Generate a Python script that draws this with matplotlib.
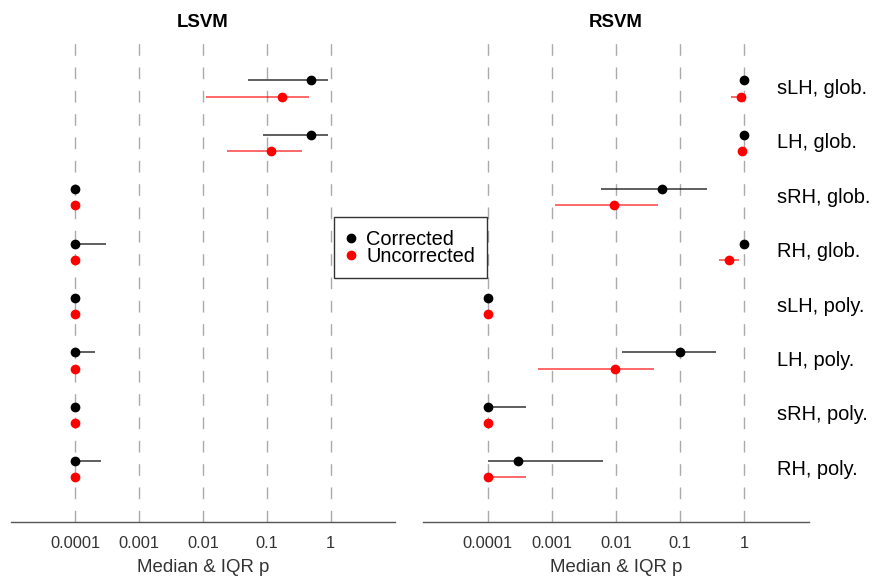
import matplotlib
matplotlib.use("Agg")
import matplotlib.pyplot as plt
import matplotlib.transforms as mtransforms
from matplotlib.lines import Line2D
import numpy as np

plt.rcParams['font.family'] = ['Liberation Sans', 'DejaVu Sans']

labels = ["sLH, glob.", "LH, glob.", "sRH, glob.", "RH, glob.",
          "sLH, poly.", "LH, poly.", "sRH, poly.", "RH, poly."]
tick_vals = [1e-4, 1e-3, 1e-2, 1e-1, 1]
tick_labels = ["0.0001", "0.001", "0.01", "0.1", "1"]

# LSVM
lsvm_corr_med = [0.49, 0.50, 1e-4, 1e-4, 1e-4, 1e-4, 1e-4, 1e-4]
lsvm_corr_q1 = [0.05, 0.087, 1e-4, 1e-4, 1e-4, 1e-4, 1e-4, 1e-4]
lsvm_corr_q3 = [0.91, 0.91, 1e-4, 3.0e-4, 1e-4, 2.0e-4, 1e-4, 2.5e-4]
lsvm_unc_med = [0.174, 0.117, 1e-4, 1e-4, 1e-4, 1e-4, 1e-4, 1e-4]
lsvm_unc_q1 = [0.011, 0.024, 1e-4, 1e-4, 1e-4, 1e-4, 1e-4, 1e-4]
lsvm_unc_q3 = [0.46, 0.355, 1e-4, 1e-4, 1e-4, 1e-4, 1e-4, 1e-4]

# RSVM
rsvm_corr_med = [1.0, 1.0, 0.052, 1.0, 1e-4, 0.1, 1e-4, 3.0e-4]
rsvm_corr_q1 = [1.0, 1.0, 0.0058, 1.0, 1e-4, 0.0125, 1e-4, 1e-4]
rsvm_corr_q3 = [1.0, 1.0, 0.26, 1.0, 1e-4, 0.36, 4.0e-4, 0.0063]
rsvm_unc_med = [0.885, 0.91, 0.0094, 0.58, 1e-4, 0.0095, 1e-4, 1e-4]
rsvm_unc_q1 = [0.62, 0.90, 0.0011, 0.40, 1e-4, 6.0e-4, 1e-4, 1e-4]
rsvm_unc_q3 = [1.0, 0.93, 0.046, 0.83, 1e-4, 0.039, 1e-4, 4.0e-4]

W, H = 872, 578
fig = plt.figure(figsize=(W / 100, H / 100), dpi=100)

def px_axes(x0, x1, y0, y1):
    return fig.add_axes([x0 / W, 1 - y1 / H, (x1 - x0) / W, (y1 - y0) / H])

ax1 = px_axes(11, 395, 33, 522)
ax2 = px_axes(423, 809, 33, 522)

n = len(labels)
rows = np.arange(n, 0, -1)
off = 0.15

def draw(ax, cm, c1, c3, um, u1, u3, title, show_labels):
    ax.set_xscale('log')
    ax.set_xlim(10 ** -5.01, 10 ** 1.01)
    ax.set_ylim(0.03, 9.02)
    for t in tick_vals:
        ax.axvline(t, color='#aaaaaa', lw=1.0, dashes=(8.4, 8.4), zorder=0)
    ax.hlines(rows + off, c1, c3, color='black', lw=1.1, alpha=0.8, zorder=2)
    ax.hlines(rows - off, u1, u3, color='red', lw=1.1, alpha=0.75, zorder=2)
    ax.plot(cm, rows + off, 'o', color='black', ms=6, zorder=3)
    ax.plot(um, rows - off, 'o', color='red', ms=6, zorder=3)
    ax.set_xticks(tick_vals)
    ax.set_xticklabels(tick_labels)
    ax.minorticks_off()
    ax.tick_params(axis='x', length=0, pad=10, labelsize=11.8, colors='#333333')
    ax.set_yticks([])
    for s in ['top', 'left', 'right']:
        ax.spines[s].set_visible(False)
    ax.spines['bottom'].set_color('#555555')
    ax.spines['bottom'].set_linewidth(1.0)
    ax.set_xlabel("Median & IQR p", fontsize=13.4, color='#333333', labelpad=5.5)
    ax.set_title(title, fontsize=13.4, fontweight='bold', pad=4.5)
    if show_labels:
        tr = mtransforms.blended_transform_factory(ax.transAxes, ax.transData)
        for r, lab in zip(rows, labels):
            ax.text(0.916, r, lab, transform=tr, ha='left', va='center',
                    fontsize=14.4, color='black')

draw(ax1, lsvm_corr_med, lsvm_corr_q1, lsvm_corr_q3,
     lsvm_unc_med, lsvm_unc_q1, lsvm_unc_q3, "LSVM", False)
draw(ax2, rsvm_corr_med, rsvm_corr_q1, rsvm_corr_q3,
     rsvm_unc_med, rsvm_unc_q1, rsvm_unc_q3, "RSVM", True)

handles = [Line2D([], [], marker='o', ls='none', color='black', ms=6),
           Line2D([], [], marker='o', ls='none', color='red', ms=6)]
leg = fig.legend(handles, ["Corrected", "Uncorrected"], loc='center',
                 bbox_to_anchor=(410.5 / W, 1 - 247.8 / H), fontsize=14.4,
                 frameon=True, fancybox=False, edgecolor='black',
                 handlelength=0.5, handletextpad=0.5, labelspacing=-0.08,
                 borderpad=0.62, borderaxespad=0)
leg.get_frame().set_linewidth(1.0)

fig.savefig("out.png", dpi=100)
